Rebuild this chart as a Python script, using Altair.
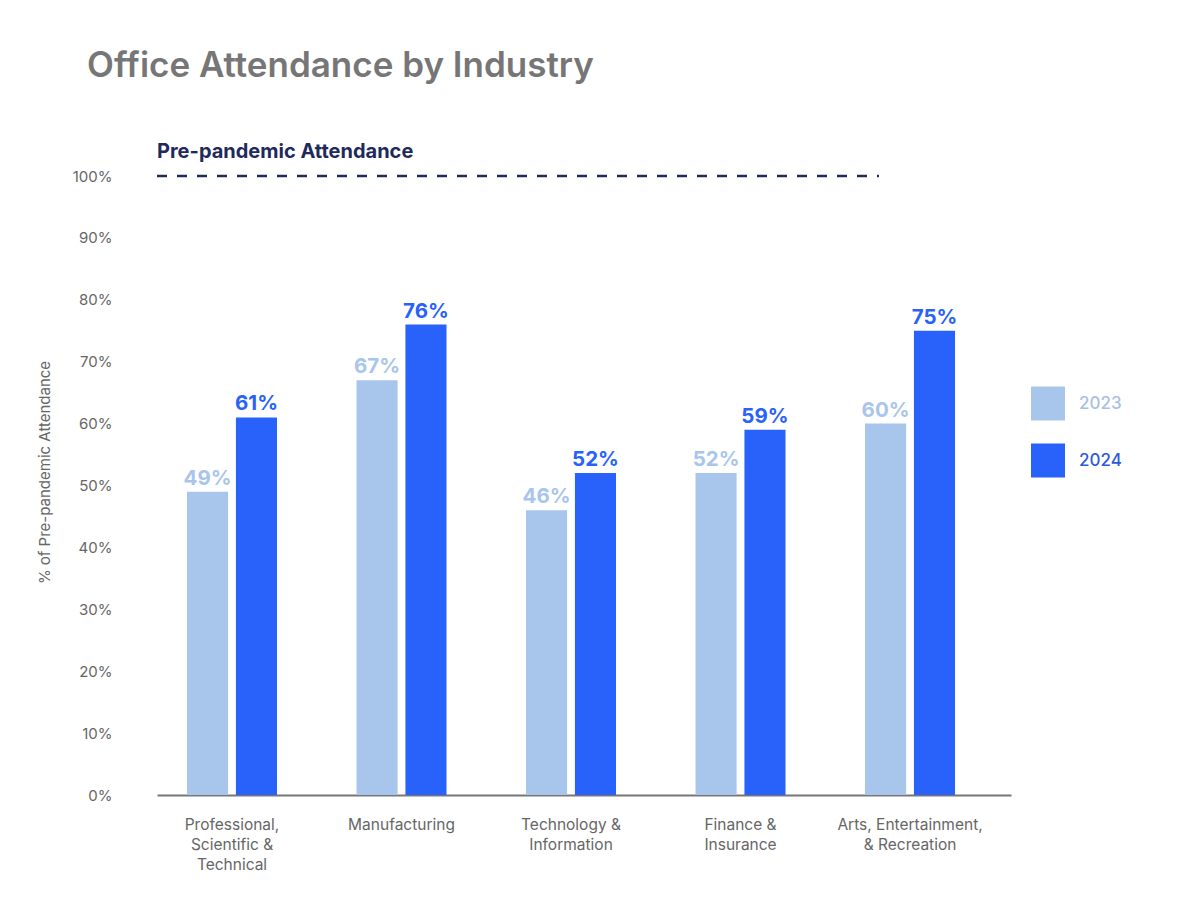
import altair as alt
import pandas as pd

industries = [
    "Professional,|Scientific &|Technical",
    "Manufacturing",
    "Technology &|Information",
    "Finance &|Insurance",
    "Arts, Entertainment,|& Recreation",
]
years = ["2023", "2024"]
values_2023 = [49, 67, 46, 52, 60]
values_2024 = [61, 76, 52, 59, 75]
y_ticks = [0, 10, 20, 30, 40, 50, 60, 70, 80, 90, 100]
reference_level = 100

bar_colors = ["#a8c5ec", "#2962fb"]
legend_text_colors = ["#a9bfe6", "#2d5bd8"]
font = "Inter"

df = pd.DataFrame({
    "industry": industries * 2,
    "year": ["2023"] * 5 + ["2024"] * 5,
    "value": values_2023 + values_2024,
})
df["label"] = df["value"].astype(str) + "%"

x_enc = alt.X(
    "industry:N", sort=industries, title=None,
    scale=alt.Scale(paddingInner=0.469, paddingOuter=0.2536, align=0.349),
    axis=alt.Axis(labelExpr="split(datum.label, '|')", labelAngle=0, labelAlign="center",
                  labelBaseline="top", labelFont=font, labelFontSize=15.5, labelColor="#666666",
                  labelPadding=22, labelLineHeight=20, ticks=False,
                  domainColor="#777777", domainWidth=2),
)
xoff_enc = alt.XOffset("year:N", sort=years, scale=alt.Scale(paddingInner=0.16))
y_enc = alt.Y(
    "value:Q", scale=alt.Scale(domain=[0, 100]),
    axis=alt.Axis(values=y_ticks, labelExpr="datum.value + '%'", grid=False, ticks=False,
                  domain=False, labelFont=font, labelFontSize=15, labelColor="#666666",
                  labelPadding=45, title="% of Pre-pandemic Attendance", titleFont=font,
                  titleFontSize=15, titleFontWeight="normal", titleColor="#666666",
                  titleX=-113, titleY=296, titleAngle=270, titleBaseline="middle"),
)
color_enc = alt.Color("year:N", sort=years, scale=alt.Scale(domain=years, range=bar_colors), legend=None)

base = alt.Chart(df)
bars = base.mark_bar().encode(x=x_enc, xOffset=xoff_enc, y=y_enc, color=color_enc)
bar_labels = base.mark_text(baseline="alphabetic", dy=-7, font=font, fontSize=20.5, fontWeight="bold").encode(
    x=x_enc, xOffset=xoff_enc, y=y_enc, color=color_enc, text="label:N"
)

ref_df = pd.DataFrame({"value": [reference_level], "text": ["Pre-pandemic Attendance"]})
ref_line = alt.Chart(ref_df).mark_rule(color="#1f2a5c", strokeWidth=2.5, strokeDash=[10, 10]).encode(
    y="value:Q", x=alt.value(0), x2=alt.value(722)
)
ref_text = alt.Chart(ref_df).mark_text(
    align="left", baseline="alphabetic", dy=-18, font=font, fontSize=20, fontWeight="bold", color="#1f2a5c"
).encode(y="value:Q", x=alt.value(0), text="text:N")

main = alt.layer(bars, bar_labels, ref_line, ref_text).properties(width=854, height=619)

legend_df = pd.DataFrame({"year": years, "text_color": legend_text_colors})
legend_y = alt.Y("year:N", sort=years, axis=None,
                 scale=alt.Scale(range=[199, 313], paddingInner=0, paddingOuter=0))
legend_squares = alt.Chart(legend_df).mark_square(size=1156, opacity=1).encode(
    y=legend_y, x=alt.value(17), color=color_enc
)
legend_labels = alt.Chart(legend_df).mark_text(
    align="left", baseline="middle", font=font, fontSize=17, fontWeight=500
).encode(y=legend_y, x=alt.value(48), text="year:N",
         color=alt.Color("text_color:N", scale=None))
legend = alt.layer(legend_squares, legend_labels).properties(width=110, height=619)

chart = alt.hconcat(main, legend, spacing=20, bounds="flush").properties(
    title=alt.TitleParams("Office Attendance by Industry", anchor="start", font=font, fontSize=35,
                          fontWeight=600, color="#767676", dx=50, offset=58),
    padding={"left": 29, "top": 41, "right": 5, "bottom": 5},
).configure_view(stroke=None)

chart.save("out.html", embed_options={"renderer": "svg", "actions": False})
